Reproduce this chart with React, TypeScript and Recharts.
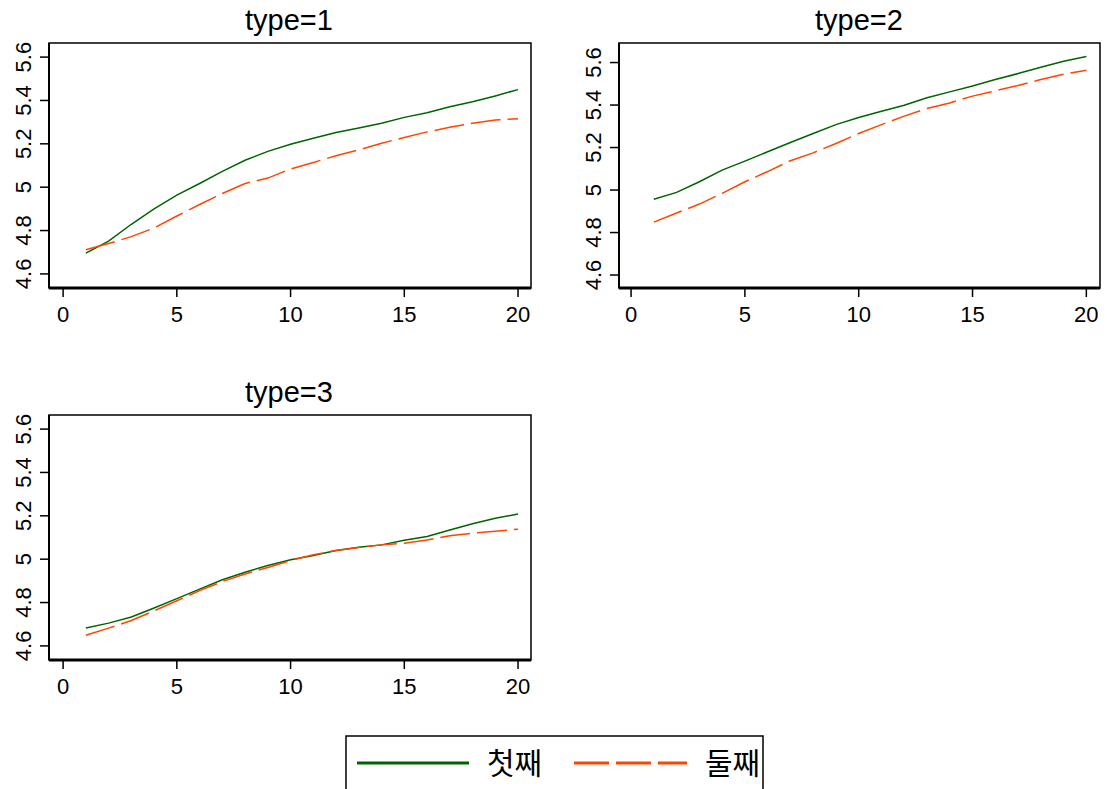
import React from "react";
import { LineChart, Line, XAxis, YAxis, ReferenceArea } from "recharts";

const periods = [1, 2, 3, 4, 5, 6, 7, 8, 9, 10, 11, 12, 13, 14, 15, 16, 17, 18, 19, 20];

const t1First = [4.696, 4.751, 4.829, 4.9, 4.963, 5.017, 5.073, 5.124, 5.165, 5.198, 5.226, 5.252, 5.273, 5.295, 5.322, 5.343, 5.371, 5.394, 5.421, 5.45];
const t1Second = [4.711, 4.74, 4.772, 4.812, 4.867, 4.92, 4.971, 5.017, 5.042, 5.084, 5.114, 5.145, 5.172, 5.203, 5.229, 5.255, 5.276, 5.295, 5.31, 5.316];

const t2First = [4.957, 4.989, 5.039, 5.094, 5.136, 5.18, 5.224, 5.266, 5.308, 5.341, 5.371, 5.399, 5.434, 5.462, 5.49, 5.52, 5.548, 5.578, 5.606, 5.628];
const t2Second = [4.849, 4.892, 4.934, 4.984, 5.039, 5.087, 5.138, 5.175, 5.219, 5.266, 5.308, 5.348, 5.384, 5.41, 5.442, 5.467, 5.492, 5.52, 5.545, 5.564];

const t3First = [4.683, 4.705, 4.733, 4.775, 4.818, 4.862, 4.905, 4.94, 4.971, 4.997, 5.017, 5.04, 5.055, 5.066, 5.087, 5.105, 5.135, 5.163, 5.189, 5.208];
const t3Second = [4.649, 4.682, 4.717, 4.762, 4.808, 4.855, 4.897, 4.932, 4.962, 4.994, 5.02, 5.04, 5.054, 5.066, 5.074, 5.089, 5.108, 5.12, 5.129, 5.138];

const xTicks = [0, 5, 10, 15, 20];
const yTicks = [4.6, 4.8, 5, 5.2, 5.4, 5.6];
const titles = ["type=1", "type=2", "type=3"];
const seriesNames = ["첫째", "둘째"];

const GREEN = "#006400";
const ORANGE = "#ff4500";
const FONT = '"Liberation Sans", Arial, Helvetica, sans-serif';
const KFONT = '"Noto Sans CJK KR", "Noto Sans", sans-serif';

const build = (a: number[], b: number[]) =>
  periods.map((p, i) => ({ period: p, first: a[i], second: b[i] }));

const XTick = (props: any) => {
  const { x, y, payload } = props;
  return (
    <text x={x} y={y + 25} textAnchor="middle" fontSize={22} fontFamily={FONT} fill="#000">
      {payload.value}
    </text>
  );
};

const YTick = (props: any) => {
  const { x, y, payload } = props;
  return (
    <text
      transform={`translate(${x - 9},${y}) rotate(-90)`}
      textAnchor="middle"
      fontSize={22}
      fontFamily={FONT}
      fill="#000"
    >
      {String(payload.value)}
    </text>
  );
};

type PanelProps = {
  data: any[];
  left: number;
  top: number;
  width: number;
  marginRight: number;
  xDomain: [number, number];
  yDomain: [number, number];
};

const Panel = ({ data, left, top, width, marginRight, xDomain, yDomain }: PanelProps) => (
  <div style={{ position: "absolute", left, top }}>
    <LineChart
      width={width}
      height={340}
      data={data}
      margin={{ top: 43, right: marginRight, left: 0, bottom: 0 }}
    >
      <XAxis
        dataKey="period"
        type="number"
        domain={xDomain}
        ticks={xTicks}
        allowDataOverflow
        height={52}
        tickSize={9}
        tickMargin={0}
        tick={<XTick />}
        axisLine={{ stroke: "#000", strokeWidth: 3 }}
        tickLine={{ stroke: "#000", strokeWidth: 1.5 }}
        interval={0}
      />
      <YAxis
        type="number"
        domain={yDomain}
        ticks={yTicks}
        allowDataOverflow
        width={49}
        tickSize={9}
        tickMargin={0}
        tick={<YTick />}
        axisLine={{ stroke: "#000", strokeWidth: 2 }}
        tickLine={{ stroke: "#000", strokeWidth: 1.5 }}
        interval={0}
      />
      <ReferenceArea
        x1={xDomain[0]}
        x2={xDomain[1]}
        y1={yDomain[0]}
        y2={yDomain[1]}
        fill="none"
        fillOpacity={0}
        stroke="#000"
        strokeWidth={1.5}
        ifOverflow="visible"
      />
      <Line
        type="linear"
        dataKey="first"
        stroke={GREEN}
        strokeWidth={1.5}
        dot={false}
        isAnimationActive={false}
      />
      <Line
        type="linear"
        dataKey="second"
        stroke={ORANGE}
        strokeWidth={1.5}
        strokeDasharray="30 7"
        dot={false}
        isAnimationActive={false}
      />
    </LineChart>
  </div>
);

export default function App() {
  return (
    <div
      style={{
        position: "absolute",
        left: 0,
        top: 0,
        width: 1107,
        height: 789,
        background: "#fff",
        overflow: "hidden",
      }}
    >
      <Panel
        data={build(t1First, t1Second)}
        left={0}
        top={0}
        width={560}
        marginRight={29}
        xDomain={[-0.62, 20.57]}
        yDomain={[4.535, 5.665]}
      />
      <Panel
        data={build(t2First, t2Second)}
        left={570}
        top={0}
        width={537}
        marginRight={7}
        xDomain={[-0.53, 20.6]}
        yDomain={[4.539, 5.692]}
      />
      <Panel
        data={build(t3First, t3Second)}
        left={0}
        top={372}
        width={560}
        marginRight={29}
        xDomain={[-0.62, 20.57]}
        yDomain={[4.535, 5.665]}
      />
      <svg
        width={1107}
        height={789}
        style={{ position: "absolute", left: 0, top: 0, pointerEvents: "none" }}
      >
        <text x={289} y={30} textAnchor="middle" fontSize={29} fontFamily={FONT} fill="#000">
          {titles[0]}
        </text>
        <text x={859} y={30} textAnchor="middle" fontSize={29} fontFamily={FONT} fill="#000">
          {titles[1]}
        </text>
        <text x={289} y={402} textAnchor="middle" fontSize={29} fontFamily={FONT} fill="#000">
          {titles[2]}
        </text>
        <rect x={346} y={736} width={417} height={60} fill="#fff" stroke="#000" strokeWidth={1.5} />
        <line x1={357} y1={763} x2={469} y2={763} stroke={GREEN} strokeWidth={3} />
        <text x={487} y={774} fontSize={30} fontFamily={KFONT} fill="#000">
          {seriesNames[0]}
        </text>
        <line x1={574} y1={763} x2={687} y2={763} stroke={ORANGE} strokeWidth={3} strokeDasharray="35 7" />
        <text x={705} y={774} fontSize={30} fontFamily={KFONT} fill="#000">
          {seriesNames[1]}
        </text>
      </svg>
    </div>
  );
}
